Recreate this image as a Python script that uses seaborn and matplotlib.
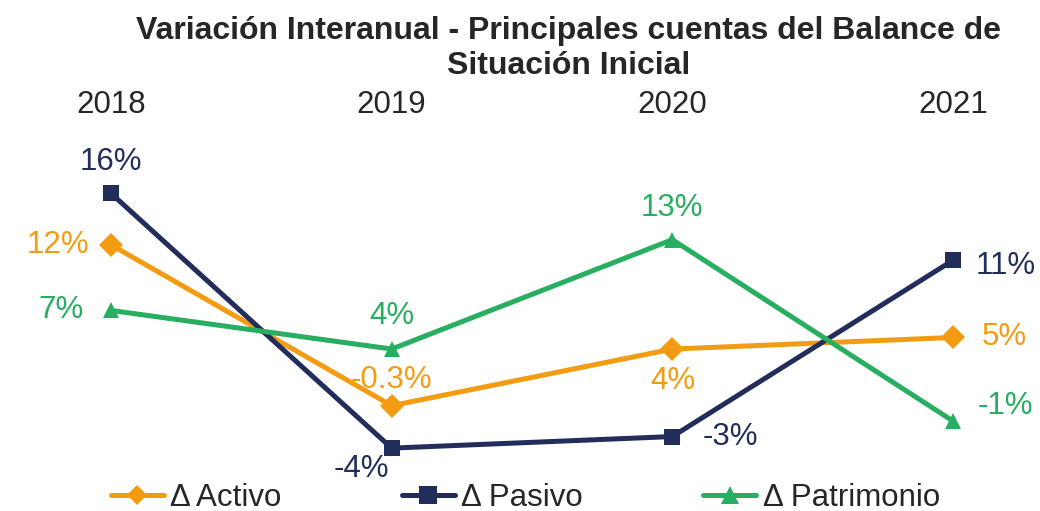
import matplotlib
matplotlib.use("Agg")
import matplotlib.pyplot as plt
import seaborn as sns
import pandas as pd

# data
years = ["2018", "2019", "2020", "2021"]
activo = [12.2, -0.3, 4.1, 5.0]
pasivo = [16.2, -3.6, -2.7, 11.0]
patrimonio = [7.1, 4.1, 12.6, -1.5]
activo_lbl = ["12%", "-0.3%", "4%", "5%"]
pasivo_lbl = ["16%", "-4%", "-3%", "11%"]
patrimonio_lbl = ["7%", "4%", "13%", "-1%"]
series_names = ["\u0394 Activo", "\u0394 Pasivo", "\u0394 Patrimonio"]

colors = {"\u0394 Activo": "#F39C12", "\u0394 Pasivo": "#222D5C", "\u0394 Patrimonio": "#27AE60"}
markers = {"\u0394 Activo": "D", "\u0394 Pasivo": "s", "\u0394 Patrimonio": "^"}
msizes = {"\u0394 Activo": 10.5, "\u0394 Pasivo": 12.5, "\u0394 Patrimonio": 13}

rows = []
for name, vals in zip(series_names, [activo, pasivo, patrimonio]):
    for i, v in enumerate(vals):
        rows.append({"x": i, "year": years[i], "serie": name, "valor": v})
df = pd.DataFrame(rows)

sns.set_theme(style="white")
plt.rcParams["font.family"] = ["Liberation Sans", "DejaVu Sans"]

fig = plt.figure(figsize=(10.4, 5.11), dpi=100)
ax = fig.add_axes([0, 41 / 511, 1, 350 / 511])

sns.lineplot(data=df, x="x", y="valor", hue="serie", style="serie",
             palette=colors, markers=markers, dashes=False, linewidth=3.6,
             markersize=12, markeredgewidth=0, ax=ax, legend=True)
for line in ax.lines:
    lab = line.get_label()
    if lab in msizes:
        line.set_markersize(msizes[lab])

ax.set_xlim(-111 / 280.7, 3 + 87 / 280.7)
ax.set_ylim(-5.3, 21.9)
ax.set_xticks(range(4))
ax.set_xticklabels(years, fontsize=22.5)
ax.xaxis.tick_top()
ax.tick_params(axis="x", length=0, pad=0)
ax.set_yticks([])
ax.set_xlabel("")
ax.set_ylabel("")
for s in ax.spines.values():
    s.set_visible(False)

fs = 22.5
# (offset in points, ha, va) per point
pos = {
    "\u0394 Activo": [((-16, 0), "right", "center"), ((0, 8), "center", "bottom"),
                      ((0, -12), "center", "top"), ((21, 0), "left", "center")],
    "\u0394 Pasivo": [((0, 12), "center", "bottom"), ((-22, -4), "center", "top"),
                      ((22, 0), "left", "center"), ((16, -4), "left", "center")],
    "\u0394 Patrimonio": [((-20, 0), "right", "center"), ((0, 13), "center", "bottom"),
                          ((0, 12), "center", "bottom"), ((18, 11), "left", "center")],
}
for name, vals, lbls in zip(series_names, [activo, pasivo, patrimonio],
                            [activo_lbl, pasivo_lbl, patrimonio_lbl]):
    for i, (v, t) in enumerate(zip(vals, lbls)):
        off, ha, va = pos[name][i]
        ax.annotate(t, (i, v), xytext=off, textcoords="offset points",
                    ha=ha, va=va, fontsize=fs, color=colors[name])

handles, labels = ax.get_legend_handles_labels()
for h, l in zip(handles, labels):
    h.set_markersize(msizes[l])
ax.legend(handles, labels, loc="lower center", bbox_to_anchor=(0.505, -41 / 350 - 0.04),
          ncol=3, frameon=False, fontsize=fs, handlelength=1.7, handletextpad=0.2,
          columnspacing=3.85, borderaxespad=0)

fig.suptitle("Variación Interanual - Principales cuentas del Balance de\nSituación Inicial",
             fontsize=23, fontweight="bold", x=0.547, y=0.968, linespacing=1.2)

fig.savefig("out.png", dpi=100)
